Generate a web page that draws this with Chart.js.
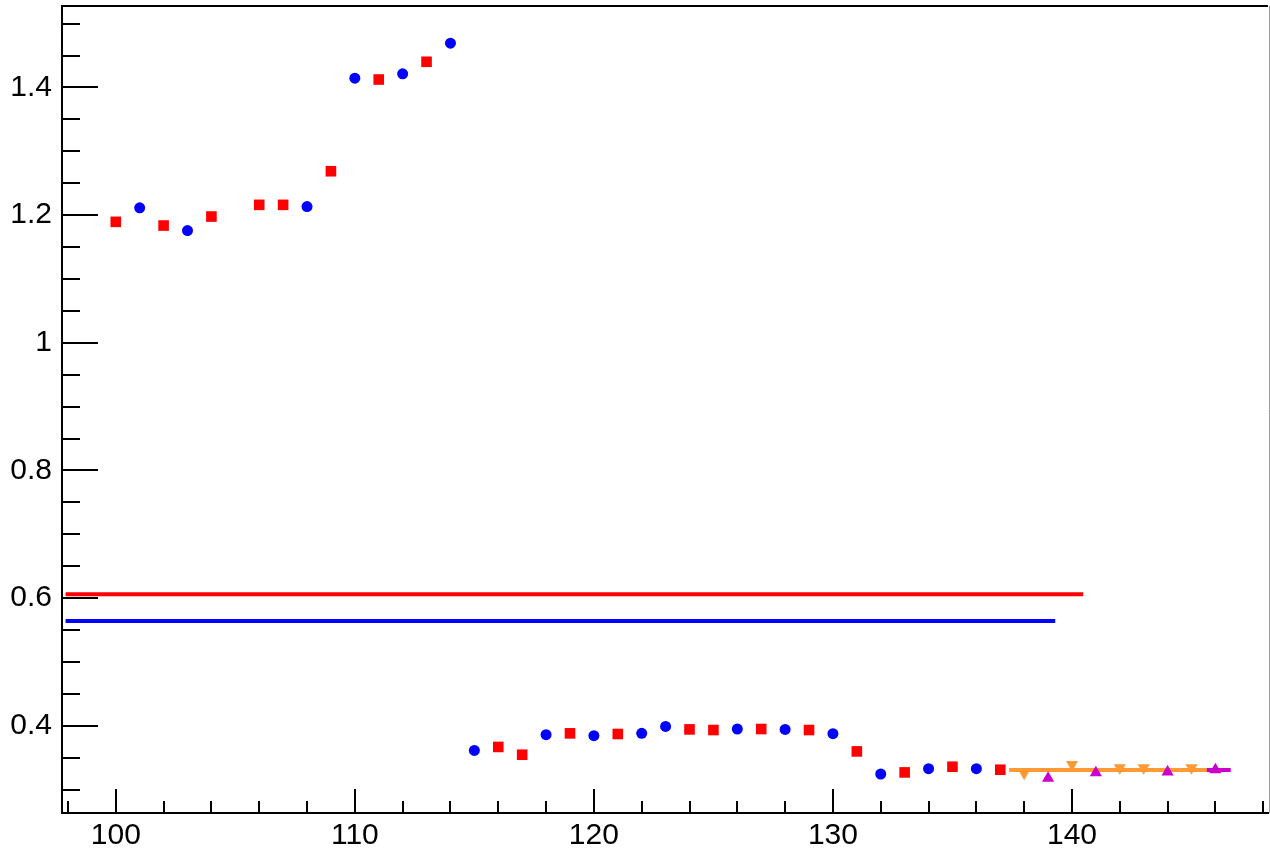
<!DOCTYPE html>
<html>
<head>
<meta charset="utf-8">
<script src="https://cdn.jsdelivr.net/npm/chart.js@4"></script>
<style>
  html, body { margin: 0; padding: 0; background: #fff; }
  #wrap { width: 1270px; height: 851px; }
</style>
</head>
<body>
<div id="wrap"><canvas id="plot" width="1270" height="851"></canvas></div>
<script>
// axis ranges and labelled ticks
const xRange = [97.75, 148.2]
const yRange = [0.2632, 1.5277]
const xTicks = [100, 110, 120, 130, 140]
const yTicks = [0.4, 0.6, 0.8, 1, 1.2, 1.4]

// red squares
const redX = [100, 102, 104, 106, 107, 109, 111, 113, 116, 117, 119, 121, 124, 125, 127, 129, 131, 133, 135, 137]
const redY = [1.1895, 1.1837, 1.1978, 1.2161, 1.2161, 1.2688, 1.4125, 1.4403, 0.3667, 0.3545, 0.3880, 0.3870, 0.3942, 0.3932, 0.3948, 0.3932, 0.3597, 0.3268, 0.3357, 0.3310]

// blue circles
const blueX = [101, 103, 108, 110, 112, 114, 115, 118, 120, 122, 123, 126, 128, 130, 132, 134, 136]
const blueY = [1.2114, 1.1759, 1.2135, 1.4146, 1.4214, 1.4695, 0.3613, 0.3859, 0.3843, 0.3880, 0.3989, 0.3948, 0.3942, 0.3875, 0.3243, 0.3326, 0.3326]

// orange down triangles / magenta up triangles
const orangeX = [138, 140, 142, 143, 145]
const orangeY = [0.3255, 0.3393, 0.3341, 0.3341, 0.3341]
const magentaX = [139, 141, 144, 146]
const magentaY = [0.3175, 0.3264, 0.3275, 0.3311]

// horizontal levels: [value, xStart, xEnd]
const redLevel = [0.6058, 97.9, 140.47]
const blueLevel = [0.5641, 97.9, 139.3]
const orangeLevel = [0.3307, 137.37, 145.64]
const magentaLevel = [0.3305, 137.6, 146.64]

const pts = (xs, ys) => xs.map((x, i) => ({ x, y: ys[i] }))
const level = l => [{ x: l[1], y: l[0] }, { x: l[2], y: l[0] }]

// ROOT style ticks drawn inside the frame
const innerTicks = {
  id: 'innerTicks',
  beforeDatasetsDraw(chart) {
    const { ctx, chartArea, scales } = chart
    ctx.save()
    ctx.strokeStyle = '#000'
    ctx.lineWidth = 2
    ctx.beginPath()
    for (let v = Math.ceil(xRange[0] / 2) * 2; v <= xRange[1]; v += 2) {
      const px = Math.round(scales.x.getPixelForValue(v))
      const len = v % 10 === 0 ? 24 : 12
      ctx.moveTo(px, chartArea.bottom)
      ctx.lineTo(px, chartArea.bottom - len)
    }
    for (let k = Math.ceil(yRange[0] / 0.05); k * 0.05 <= yRange[1]; k++) {
      const py = Math.round(scales.y.getPixelForValue(k * 0.05))
      const len = k % 4 === 0 ? 36 : 18
      ctx.moveTo(chartArea.left, py)
      ctx.lineTo(chartArea.left + len, py)
    }
    ctx.stroke()
    // top frame line and right edge
    ctx.beginPath()
    ctx.moveTo(chartArea.left, chartArea.top)
    ctx.lineTo(chartArea.right, chartArea.top)
    ctx.stroke()
    ctx.strokeStyle = '#999'
    ctx.lineWidth = 1
    ctx.beginPath()
    ctx.moveTo(1269.5, chartArea.top)
    ctx.lineTo(1269.5, chartArea.bottom)
    ctx.stroke()
    ctx.restore()
  },
}

const font = { family: '"Liberation Sans", Arial, Helvetica, sans-serif', size: 30 }

new Chart(document.getElementById('plot'), {
  type: 'scatter',
  data: {
    datasets: [
      { data: pts(redX, redY), pointStyle: 'rect', pointRadius: 7.5, backgroundColor: '#ff0000', borderWidth: 0 },
      { data: pts(blueX, blueY), pointStyle: 'circle', pointRadius: 5.5, backgroundColor: '#0000ff', borderWidth: 0 },
      { data: pts(orangeX, orangeY), pointStyle: 'triangle', rotation: 180, pointRadius: 7, backgroundColor: '#ff9933', borderWidth: 0 },
      { data: pts(magentaX, magentaY), pointStyle: 'triangle', pointRadius: 7, backgroundColor: '#cc00cc', borderWidth: 0 },
      { data: level(orangeLevel), showLine: true, pointRadius: 0, borderColor: '#ff9933', borderWidth: 4 },
      { data: level(magentaLevel), showLine: true, pointRadius: 0, borderColor: '#cc00cc', borderWidth: 4 },
      { data: level(redLevel), showLine: true, pointRadius: 0, borderColor: '#ff0000', borderWidth: 4 },
      { data: level(blueLevel), showLine: true, pointRadius: 0, borderColor: '#0000ff', borderWidth: 4 },
    ],
  },
  options: {
    responsive: false,
    animation: false,
    layout: { autoPadding: false, padding: { top: 6, right: 2, left: 0, bottom: 0 } },
    plugins: { legend: { display: false }, tooltip: { enabled: false } },
    scales: {
      x: {
        type: 'linear',
        min: xRange[0],
        max: xRange[1],
        afterBuildTicks: s => { s.ticks = xTicks.map(v => ({ value: v })) },
        afterFit: s => { s.height = 38; s.paddingLeft = 0; s.paddingRight = 0 },
        grid: { display: false, drawTicks: false },
        border: { display: true, color: '#000', width: 2 },
        ticks: { color: '#000', font, padding: 5, maxRotation: 0, autoSkip: false },
      },
      y: {
        type: 'linear',
        min: yRange[0],
        max: yRange[1],
        afterBuildTicks: s => { s.ticks = yTicks.map(v => ({ value: v })) },
        afterFit: s => { s.width = 62; s.paddingTop = 0; s.paddingBottom = 0 },
        grid: { display: false, drawTicks: false },
        border: { display: true, color: '#000', width: 2 },
        ticks: { color: '#000', font, padding: 10, autoSkip: false, callback: v => String(v) },
      },
    },
  },
  plugins: [innerTicks],
})
</script>
</body>
</html>
